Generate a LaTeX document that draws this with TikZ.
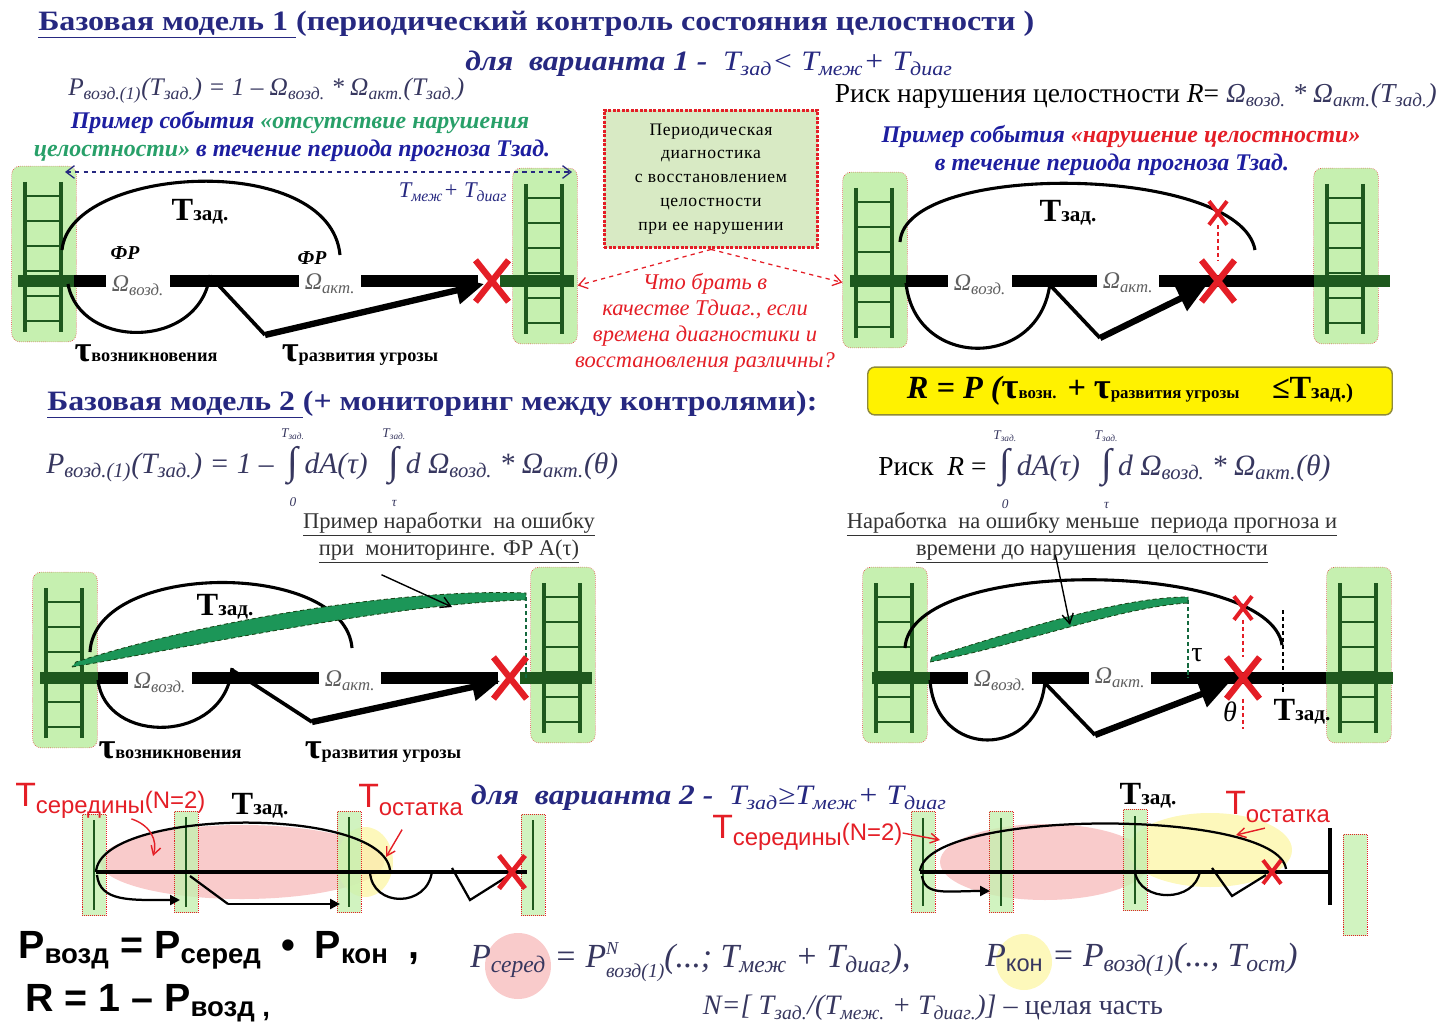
\documentclass[tikz,border=0pt]{standalone}
\usepackage{fontspec}
\setmainfont{Liberation Serif}
\setsansfont{Liberation Sans}
\newfontfamily\spacedserif[LetterSpace=4]{Liberation Serif}
\usepackage{graphicx}
\usepackage{tikz}
\usetikzlibrary{arrows.meta,shapes.misc}
\usepackage{xcolor}
\definecolor{mynavy}{RGB}{38,40,128}
\definecolor{myslate}{RGB}{55,55,95}
\definecolor{myred}{RGB}{228,30,38}
\definecolor{mygreen}{RGB}{30,88,30}
\definecolor{mygreenpale}{RGB}{198,240,176}
\definecolor{myband}{RGB}{28,150,88}
\definecolor{mytxtgreen}{RGB}{40,160,105}
\definecolor{mypink}{RGB}{244,160,160}
\definecolor{mycream}{RGB}{252,246,170}
\definecolor{mybox}{RGB}{216,234,196}
\definecolor{mygrayt}{RGB}{95,95,95}
\newcommand{\sbt}[1]{\textsubscript{#1}}
\newcommand{\supsub}[2]{\rlap{\raisebox{9pt}{\fontsize{13}{13}\selectfont #1}}\raisebox{-7pt}{\fontsize{14}{14}\selectfont #2}}
\newcommand{\intlim}[2]{\begin{tabular}[c]{@{}c@{}}{\fontsize{9.5}{9.5}\selectfont #2}\\[0pt]{\fontsize{28}{24}\selectfont ∫}\\[0pt]{\fontsize{9.5}{9.5}\selectfont #1}\end{tabular}}
\newcommand{\Tz}[1]{{\upshape\fontsize{23}{23}\selectfont T}{\upshape\fontsize{15}{15}\selectfont #1}}
\newcommand{\taub}[2][13]{{\upshape\fontsize{26}{26}\selectfont τ}{\upshape\fontsize{#1}{#1}\selectfont #2}}
\newcommand{\Tred}[1]{{\fontsize{24}{24}\selectfont T}\raisebox{-5pt}{#1}}
\tikzset{
  ttl/.style={inner sep=0pt,text=mynavy,font=\fontsize{19}{22}\selectfont\bfseries},
  varline/.style={inner sep=0pt,text=mynavy,font=\fontsize{20}{22}\selectfont\bfseries\itshape},
  frm/.style={inner sep=0pt,text=myslate,font=\fontsize{18}{20}\selectfont\itshape},
  frmb/.style={inner sep=0pt,text=myslate,font=\fontsize{21}{22}\selectfont\itshape},
  frmc/.style={inner sep=0pt,text=myslate,font=\fontsize{24}{24}\selectfont\itshape},
  rsk/.style={inner sep=0pt,text=black,font=\fontsize{19.5}{22}\selectfont},
  scr/.style={inner sep=0pt,text=mynavy!75!blue,font=\fontsize{17}{18}\selectfont\bfseries\itshape},
  lbl/.style={inner sep=0pt,text=black,font=\bfseries},
  omg/.style={fill=white,inner xsep=4pt,inner ysep=1pt,text=mygrayt,font=\fontsize{17}{17}\selectfont\itshape},
  frlbl/.style={inner sep=0pt,font=\fontsize{14}{14}\selectfont\bfseries\itshape},
  capt/.style={align=center,inner sep=0pt,text=black!80,font=\fontsize{16}{19}\selectfont},
  redq/.style={align=center,inner sep=0pt,text=myred,font=\fontsize{16}{18.5}\selectfont\itshape},
  diagbox/.style={draw=myred,densely dotted,line width=2.2pt,fill=mybox,align=center,
    minimum width=152pt,minimum height=98pt,font=\spacedserif\fontsize{12.5}{17}\selectfont},
  ybox/.style={draw=olive!60!gray,fill=yellow,rounded corners=5pt,line width=1pt,
    minimum width=373pt,minimum height=34pt,font=\fontsize{23}{23}\selectfont\bfseries\itshape},
  ladbox/.style={draw=myred,densely dotted,fill=mygreenpale,rounded corners=6pt,
    minimum width=46pt,minimum height=125pt,inner sep=0pt},
  slimbox/.style={draw=myred,densely dotted,fill=mygreenpale,fill opacity=0.8,
    minimum width=17pt,minimum height=72pt,inner sep=0pt},
  rail/.style={draw=mygreen,line width=3pt},
  rung/.style={draw=mygreen,line width=1.5pt},
  tbar/.style={draw=black,line width=8.5pt},
  gbar/.style={draw=mygreen,line width=8.5pt},
  thinbar/.style={draw=black,line width=3pt},
  tzarc/.style={draw=black,line width=2.2pt},
  thinarc/.style={draw=black,line width=1.6pt},
  vline/.style={draw=black,line width=2.6pt},
  bigarrow/.style={draw=black,line width=4.5pt,-{Triangle[length=20pt,width=19pt]}},
  smallarrow/.style={draw=black,line width=1.6pt,-{Triangle[length=7pt,width=7pt]}},
  crossx/.style={cross out,draw=myred,line width=4.5pt,minimum width=19pt,minimum height=25pt,inner sep=0pt},
  crossxs/.style={cross out,draw=myred,line width=2.8pt,minimum width=10pt,minimum height=14pt,inner sep=0pt},
  reddash/.style={draw=myred,densely dashed,line width=0.8pt},
  qarrow/.style={draw=myred,dashed,line width=0.9pt,->,>={Straight Barb[length=6pt,width=8pt]}},
  period/.style={draw=mynavy,dashed,line width=0.9pt,<->,>={Straight Barb[length=6pt,width=9pt]}},
  bandfill/.style={fill=myband,draw=mygreen!80!black,densely dashed,line width=0.6pt},
  gdash/.style={draw=myband!70!black,densely dashed,line width=0.8pt},
  kdash/.style={draw=black,densely dashed,line width=0.9pt},
  ptr/.style={draw=black,line width=1pt,->,>={Straight Barb[length=7pt,width=8pt]}},
  redptr/.style={draw=myred,line width=1pt,->,>={Straight Barb[length=6pt,width=7pt]}},
  redsans/.style={inner sep=0pt,text=myred,font=\sffamily\fontsize{17}{17}\selectfont},
  bigsans/.style={inner sep=0pt,font=\sffamily\bfseries\fontsize{28}{28}\selectfont},
  pinkell/.style={fill=mypink,fill opacity=0.55},
  creamell/.style={fill=mycream,fill opacity=0.8},
  ladder/.pic={
    \node[ladbox] (-box) at (0,0) {};
    \draw[rail] (-19,-72) -- (-19,78) (17,-72) -- (17,78);
    \foreach \r in {-58,-33,-8,17,42,67} \draw[rung] (-19,\r) -- (17,\r);
  },
}
\begin{document}
\begin{tikzpicture}[x=0.025cm,y=-0.025cm]
\useasboundingbox (0,0) rectangle (1439,1030);

% model 1, headings
\node[ttl,anchor=west] (ttl1) at (38,25) {\scalebox{1.2}[1.05]{\underline{Базовая модель 1 }(периодический контроль состояния целостности )}};
\node[varline] (var1) at (709,64) {\scalebox{1.12}[1]{для\enspace варианта 1 -\enspace{\mdseries T\sbt{зад}< T\sbt{меж}+ T\sbt{диаг}}}};
\node[frm,anchor=west] (p1) at (68,91) {P\sbt{возд.(1)}(T\sbt{зад.}) = 1 – Ω\sbt{возд.} * Ω\sbt{акт.}(T\sbt{зад.})};
\node[rsk,anchor=east] (r1) at (1437,96) {Риск нарушения целостности \textit{R}= {\itshape\color{myslate}Ω\sbt{возд.} * Ω\sbt{акт.}(T\sbt{зад.})}};
\node[scr] (ex1a) at (300,123) {Пример события \textcolor{mytxtgreen}{«отсутствие нарушения}};
\node[scr] (ex1b) at (292,151) {\textcolor{mytxtgreen}{целостности»} в течение периода прогноза Тзад.};
\node[scr] (ex2a) at (1121,137) {Пример события \textcolor{myred}{«нарушение целостности»}};
\node[scr] (ex2b) at (1112,165) {в течение периода прогноза Тзад.};

% variant 1, no violation
\pic (la) at (44,254) {ladder};
\pic (lb) at (545,256) {ladder};
\draw[gbar] (18,281) -- (74,281);
\draw[tbar] (74,281) -- (478,281);
\draw[gbar] (500,281) -- (574,281);
\draw[tzarc] (62,250) .. controls (70,165) and (330,150) .. (340,255);
\draw[tzarc] (68,284) .. controls (80,350) and (200,350) .. (210,275);
\draw[vline] (210,276) -- (265,335);
\draw[bigarrow] (265,335) -- (484,284);
\node[crossx] (xa) at (492,281) {};
\node[omg] (oa1) at (138,286) {Ω\sbt{возд.}};
\node[omg] (oa2) at (330,284) {Ω\sbt{акт.}};
\node[frlbl] (fra) at (125,253) {ФР};
\node[frlbl] (frb) at (312,258) {ФР};
\node[lbl] (tza) at (200,212) {\Tz{зад.}};
\node[lbl] (tva) at (146,353) {\taub{возникновения}};
\node[lbl] (tra) at (360,355) {\taub{развития угрозы}};
\coordinate (pa) at (65,172);
\coordinate (pb) at (572,172);
\draw[period] (pa) -- (pb);
\node[frm,text=mynavy,font=\fontsize{16}{16}\selectfont\itshape] (pl) at (453,192) {T\sbt{меж}+ T\sbt{диаг}};

% diagnostics box
\node[diagbox] (diag) at (711,179) {Периодическая\\диагностика\\с восстановлением\\целостности\\при ее нарушении};
\node[redq] (quest) at (705,323) {Что брать в\\качестве Tдиаг., если\\времена диагностики и\\восстановления различны?};

% variant 1, violation
\pic (lc) at (875,260) {ladder};
\pic (ld) at (1346,256) {ladder};
\draw[gbar] (850,281) -- (906,281);
\draw[tbar] (906,281) -- (1314,281);
\draw[gbar] (1314,281) -- (1390,281);
\draw[tzarc] (900,242) .. controls (905,160) and (1240,165) .. (1255,250);
\draw[tzarc] (906,283) .. controls (915,370) and (1040,370) .. (1050,283);
\draw[vline] (1050,285) -- (1100,338);
\draw[bigarrow] (1100,338) -- (1206,286);
\node[crossx] (xc) at (1218,281) {};
\node[crossxs] (xc2) at (1218,213) {};
\draw[reddash] (xc2.south) -- (xc.north);
\node[omg] (oc1) at (980,285) {Ω\sbt{возд.}};
\node[omg] (oc2) at (1128,283) {Ω\sbt{акт.}};
\node[lbl] (tzc) at (1068,213) {\Tz{зад.}};
\draw[qarrow] (diag.south) -- ([yshift=-21pt]lb-box.east);
\draw[qarrow] (diag.south) -- ([yshift=-16pt]lc-box.west);

\node[ybox] (rbox) at (1130,391) {R = P (\taub[12]{возн.} + \taub[12]{развития угрозы}\quad ≤\Tz{зад.)}};

% model 2
\node[ttl,anchor=west] (ttl2) at (47,405) {\scalebox{1.19}[1.05]{\underline{Базовая модель 2 }(+ мониторинг между контролями):}};
\node[frmb,anchor=west] (p2) at (46,466) {P\sbt{возд.(1)}(T\sbt{зад.}) = 1 – \intlim{0}{T\sbt{зад.}}dA(τ)\enspace\intlim{τ}{T\sbt{зад.}}d Ω\sbt{возд.} * Ω\sbt{акт.}(θ)};
\node[rsk,anchor=west] (r2) at (878,468) {Риск\enspace\textit{R} = {\itshape\color{myslate}\fontsize{21}{22}\selectfont\intlim{0}{T\sbt{зад.}}dA(τ)\enspace\intlim{τ}{T\sbt{зад.}}d Ω\sbt{возд.} * Ω\sbt{акт.}(θ)}};
\node[capt] (cap1) at (449,538) {\underline{Пример наработки\enspace на ошибку}\\\underline{при\enspace мониторинге. ФР A(τ)}};
\node[capt] (cap2) at (1092,538) {\underline{Наработка\enspace на ошибку меньше\enspace периода прогноза и}\\\underline{времени до нарушения\enspace целостности}};

% monitoring, no violation
\pic (le) at (65,660) {ladder};
\pic (lf) at (563,655) {ladder};
\draw[gbar] (40,678) -- (98,678);
\draw[tbar] (98,678) -- (498,678);
\draw[gbar] (520,678) -- (592,678);
\draw[tzarc] (90,652) .. controls (95,560) and (345,560) .. (352,648);
\draw[tzarc] (98,680) .. controls (105,745) and (225,745) .. (232,668);
\draw[vline] (232,670) -- (312,722);
\draw[bigarrow] (312,722) -- (500,681);
\draw[bandfill] (72,667) .. controls (200,645) and (400,603) .. (526,600) -- (526,593) .. controls (400,588) and (200,622) .. (76,662) -- cycle;
\coordinate (be) at (526,597);
\coordinate (bea) at (526,678);
\draw[gdash] (be) -- (bea);
\node[crossx] (xe) at (510,678) {};
\node[omg] (oe1) at (160,683) {Ω\sbt{возд.}};
\node[omg] (oe2) at (350,681) {Ω\sbt{акт.}};
\node[lbl] (tze) at (225,607) {\Tz{зад.}};
\node[lbl] (tve) at (170,750) {\taub{возникновения}};
\node[lbl] (tre) at (383,752) {\taub{развития угрозы}};
\coordinate (bt1) at (452,607);
\draw[ptr] ([xshift=-48pt,yshift=-8pt]cap1.south) -- (bt1);

% monitoring, violation
\pic (lg) at (895,655) {ladder};
\pic (lh) at (1359,655) {ladder};
\draw[gbar] (872,678) -- (930,678);
\draw[tbar] (930,678) -- (1326,678);
\draw[gbar] (1326,678) -- (1393,678);
\draw[tzarc] (905,648) .. controls (910,555) and (1270,560) .. (1282,645);
\draw[tzarc] (930,680) .. controls (935,760) and (1040,760) .. (1045,680);
\draw[vline] (1045,683) -- (1095,735);
\draw[bigarrow] (1095,735) -- (1228,684);
\draw[bandfill] (930,662) .. controls (1020,645) and (1120,607) .. (1188,603) -- (1188,597) .. controls (1120,597) and (1020,630) .. (932,657) -- cycle;
\coordinate (bg) at (1188,600);
\coordinate (bga) at (1188,678);
\draw[gdash] (bg) -- (bga);
\coordinate (kd1) at (1283,610);
\coordinate (kd2) at (1283,692);
\draw[kdash] (kd1) -- (kd2);
\node[crossx] (xg) at (1243,678) {};
\node[crossxs] (xg2) at (1243,608) {};
\draw[reddash] (xg2.south) -- (xg.north);
\draw[reddash] (xg.south) -- ++(0,30);
\node[omg] (og1) at (1000,681) {Ω\sbt{возд.}};
\node[omg] (og2) at (1120,678) {Ω\sbt{акт.}};
\node[lbl,font=\fontsize{20}{20}\selectfont] (taug) at (1197,655) {τ};
\node[lbl,font=\fontsize{20}{20}\selectfont\itshape] (thg) at (1230,712) {θ};
\node[lbl] (tzg2) at (1302,712) {\Tz{зад.}};
\coordinate (bt2) at (1070,625);
\draw[ptr] ([xshift=-26pt,yshift=6pt]cap2.south) -- (bt2);

% variant 2
\node[varline] (var2) at (709,798) {\scalebox{1.12}[1]{для\enspace варианта 2 -\enspace{\mdseries T\sbt{зад}≥T\sbt{меж}+ T\sbt{диаг}}}};
\fill[pinkell] (242,862) ellipse [x radius=142,y radius=37];
\fill[creamell] (365,862) ellipse [x radius=28,y radius=35];
\foreach \n/\x/\y in {ma/94/865,mb/186/862,mc/349/862,md/533/865} {
  \node[slimbox] (\n) at (\x,\y) {};
  \draw[draw=mygreen,line width=1.8pt] (\x,\y-45) -- (\x,\y+45);
}
\draw[thinbar] (96,872) -- (527,872);
\draw[thinarc] (96,872) .. controls (100,808) and (382,805) .. (390,870);
\draw[smallarrow] (97,875) .. controls (100,902) and (130,900) .. (180,900);
\draw[thinarc] (190,876) -- (228,904);
\draw[smallarrow] (228,904) -- (340,904);
\draw[thinarc] (370,872) .. controls (372,908) and (428,908) .. (432,871);
\draw[thinarc] (452,868) -- (470,900) -- (508,876);
\node[crossx,minimum width=15pt,minimum height=20pt,line width=3.5pt] (xm) at (512,872) {};
\node[redsans,anchor=west] (tmida) at (15,801) {\Tred{середины}\raisebox{-1pt}{(N=2)}};
\node[lbl] (tzm) at (260,806) {\Tz{зад.}};
\node[redsans,anchor=west] (tosta) at (358,800) {\Tred{остатка}};
\draw[redptr] ([xshift=15pt]tmida.south) .. controls (150,825) and (158,840) .. (153,856);
\draw[redptr] ([xshift=-6pt,yshift=-10pt]tosta.south) -- (386,857);

\fill[pinkell] (1045,862) ellipse [x radius=105,y radius=38];
\fill[creamell] (1210,850) ellipse [x radius=82,y radius=37];
\foreach \n/\x/\y in {na/923/862,nb/1001/862,nc/1135/860} {
  \node[slimbox] (\n) at (\x,\y) {};
  \draw[draw=mygreen,line width=1.8pt] (\x,\y-44) -- (\x,\y+44);
}
\node[slimbox] (nd) at (1355,885) {};
\draw[thinbar] (920,872) -- (1330,872);
\draw[thinbar] (1330,828) -- (1330,905);
\draw[thinarc] (920,871) .. controls (928,808) and (1278,808) .. (1286,869);
\draw[smallarrow] (922,876) .. controls (925,896) and (945,891) .. (990,891);
\draw[thinarc] (1135,872) .. controls (1140,903) and (1195,903) .. (1200,871);
\draw[thinarc] (1212,868) -- (1232,896) -- (1266,875);
\node[crossxs] (xn) at (1272,872) {};
\node[lbl] (tzn) at (1148,796) {\Tz{зад.}};
\node[redsans,anchor=west] (tostb) at (1225,807) {\Tred{остатка}};
\node[redsans,anchor=west] (tmidb) at (712,833) {\Tred{середины}\raisebox{-1pt}{(N=2)}};
\draw[redptr] ([xshift=-9pt,yshift=-4pt]tostb.south) -- (1236,835);
\draw[redptr] (tmidb.east) -- (940,840);

% formulas
\fill[pinkell] (518,966) circle [radius=33];
\fill[creamell] (1024,962) circle [radius=28];
\node[bigsans,anchor=west] (pvozd) at (18,950) {P\sbt{возд} = P\sbt{серед}\enspace•\enspace P\sbt{кон}\enspace,};
\node[bigsans,anchor=west] (rfin) at (25,1003) {R = 1 – P\sbt{возд ,}};
\node[frmc,anchor=west] (pser) at (470,962) {P\sbt{серед} = P\supsub{N}{возд(1)}(...; T\sbt{меж} + T\sbt{диаг}),};
\node[frmc,anchor=west] (pkon) at (985,960) {P\sbt{\upshape\sffamily кон} = P\sbt{возд(1)}(..., T\sbt{ост})};
\node[frm,font=\fontsize{20}{20}\selectfont\itshape] (nint) at (933,1008) {N=[ T\sbt{зад.}/(T\sbt{меж.} + T\sbt{диаг.})] \textup{– целая часть}};
\end{tikzpicture}
\end{document}
